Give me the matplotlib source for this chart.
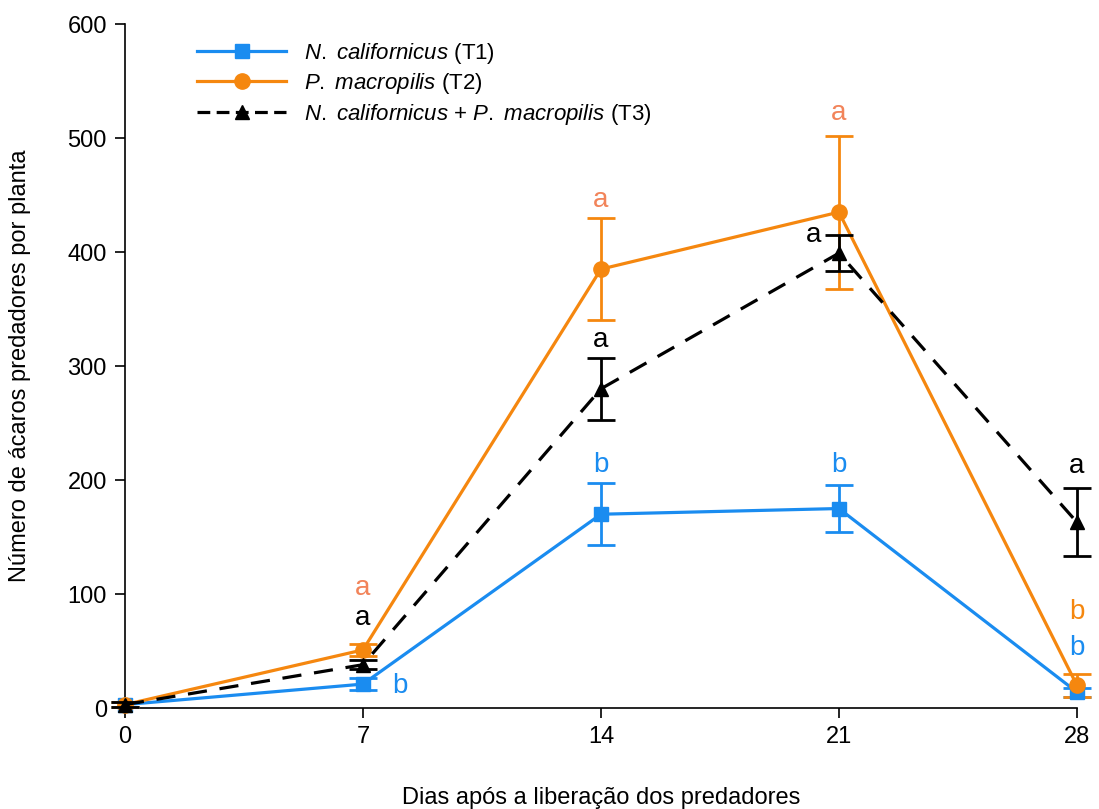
import matplotlib.pyplot as plt
from matplotlib.lines import Line2D

dias = [0, 7, 14, 21, 28]

t1_mean = [3, 21, 170, 175, 14]
t1_err = [2, 5, 27, 21, 4]
t2_mean = [3, 51, 385, 435, 20]
t2_err = [2, 5, 45, 67, 10]
t3_mean = [3, 38, 280, 399, 163]
t3_err = [2, 4, 27, 16, 30]

# letras de significância (x, y, texto)
letras_t1 = [(8.1, 19, 'b'), (14, 213, 'b'), (21, 213, 'b'), (28, 53, 'b')]
letras_t2 = [(7, 105, 'a'), (14, 446, 'a'), (21, 522, 'a'), (28, 84, 'b')]
letras_t3 = [(7, 79, 'a'), (14, 323, 'a'), (20.25, 415, 'a'), (28, 212, 'a')]

azul = '#1A8CF0'
laranja = '#F5870F'
laranja_letra = '#F2845A'

plt.rcParams['font.family'] = ['Liberation Sans', 'DejaVu Sans']
plt.rcParams['mathtext.fontset'] = 'custom'
plt.rcParams['mathtext.rm'] = 'Liberation Sans'
plt.rcParams['mathtext.it'] = 'Liberation Sans:italic'

fig = plt.figure(figsize=(10.99, 8.09), dpi=100)
ax = fig.add_axes([0.1137, 0.1248, 0.8662, 0.8455])

kw = dict(lw=2.3, capsize=10, capthick=2, elinewidth=2, clip_on=False)
ax.errorbar(dias, t1_mean, yerr=t1_err, color=azul, marker='s', markersize=10, zorder=3, **kw)
ax.errorbar(dias, t2_mean, yerr=t2_err, color=laranja, marker='o', markersize=11, zorder=3, **kw)
ax.errorbar(dias, t3_mean, yerr=t3_err, color='black', marker='^', markersize=10,
            ls=(0, (6, 4)), zorder=4, **kw)

for x, y, t in letras_t1:
    ax.text(x, y, t, color=azul, fontsize=20, ha='center', va='center')
for x, y, t in letras_t2:
    c = laranja if t == 'b' else laranja_letra
    ax.text(x, y, t, color=c, fontsize=20, ha='center', va='center')
for x, y, t in letras_t3:
    ax.text(x, y, t, color='black', fontsize=20, ha='center', va='center')

ax.set_xlim(0, 28)
ax.set_ylim(0, 600)
ax.set_xticks(dias)
ax.set_yticks(range(0, 601, 100))
ax.tick_params(labelsize=17, length=7, width=1.2, direction='out', pad=6)
ax.spines['top'].set_visible(False)
ax.spines['right'].set_visible(False)
ax.spines['left'].set_linewidth(1.2)
ax.spines['bottom'].set_linewidth(1.2)

ax.set_xlabel('Dias após a liberação dos predadores', fontsize=17, labelpad=28)
ax.set_ylabel('Número de ácaros predadores por planta', fontsize=17, labelpad=26)

handles = [
    Line2D([], [], color=azul, marker='s', markersize=10, lw=2.3),
    Line2D([], [], color=laranja, marker='o', markersize=11, lw=2.3),
    Line2D([], [], color='black', marker='^', markersize=10, lw=2.3, ls=(0, (4, 2))),
]
labels = [
    '$\\mathit{N.}$ $\\mathit{californicus}$ (T1)',
    '$\\mathit{P.}$ $\\mathit{macropilis}$ (T2)',
    '$\\mathit{N.}$ $\\mathit{californicus}$ + $\\mathit{P.}$ $\\mathit{macropilis}$ (T3)',
]
ax.legend(handles, labels, loc='upper left', bbox_to_anchor=(0.055, 1.005), frameon=False,
          fontsize=16, handlelength=4, handletextpad=0.8, labelspacing=0.25)

fig.savefig('out.png', dpi=100)
